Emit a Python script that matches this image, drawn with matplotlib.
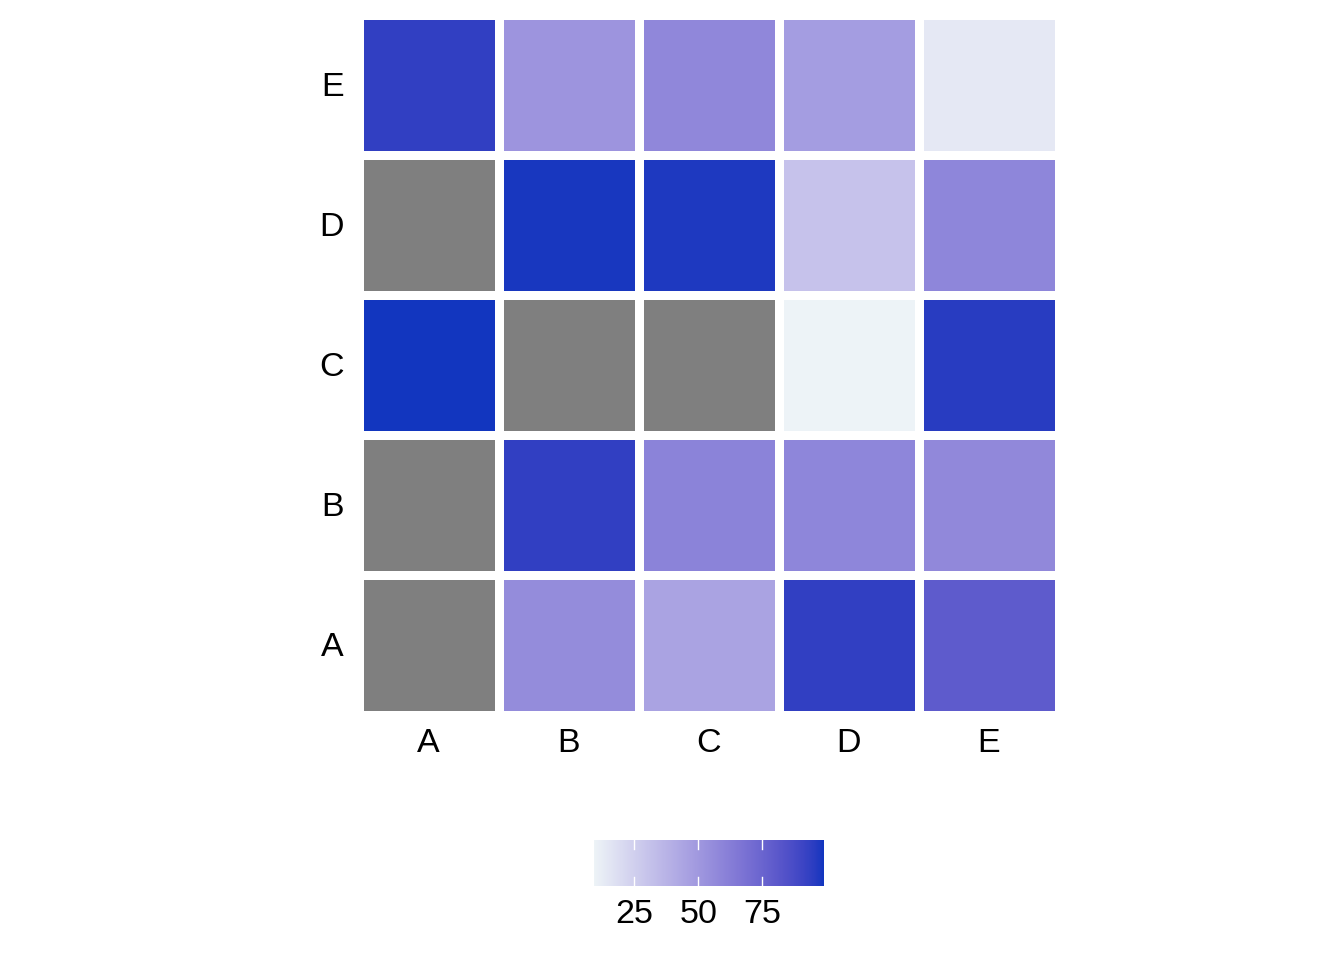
import numpy as np
import matplotlib
matplotlib.use("Agg")
import matplotlib.pyplot as plt
from matplotlib.colors import ListedColormap

plt.rcParams['font.family'] = ['Liberation Sans', 'DejaVu Sans']

# heatmap data, rows = y categories (bottom to top), columns = x categories
x_labels = ['A', 'B', 'C', 'D', 'E']
y_labels = ['A', 'B', 'C', 'D', 'E']
row_A = [np.nan, 56.2, 45.1, 94.0, 80.1]
row_B = [np.nan, 94.0, 60.3, 59.0, 58.0]
row_C = [99.1, np.nan, np.nan, 9.3, 95.8]
row_D = [np.nan, 98.2, 97.5, 30.8, 59.0]
row_E = [94.0, 51.8, 58.4, 48.1, 14.1]
bar_ticks = [25, 50, 75]

low_col = '#EDF3F7'
high_col = '#1236BF'
na_col = '#7F7F7F'


# ggplot style gradient: interpolate in CIE Lab
def srgb_to_lab(rgb):
    rgb = np.asarray(rgb, dtype=float)
    lin = np.where(rgb <= 0.04045, rgb / 12.92, ((rgb + 0.055) / 1.055) ** 2.4)
    m = np.array([[0.4124, 0.3576, 0.1805],
                  [0.2126, 0.7152, 0.0722],
                  [0.0193, 0.1192, 0.9505]])
    xyz = m @ lin / np.array([0.95047, 1.0, 1.08883])
    f = np.where(xyz > 0.008856, np.cbrt(xyz), 7.787 * xyz + 16 / 116)
    return np.array([116 * f[1] - 16, 500 * (f[0] - f[1]), 200 * (f[1] - f[2])])


def lab_to_srgb(lab):
    L, a, b = lab
    fy = (L + 16) / 116
    fx = fy + a / 500
    fz = fy - b / 200
    f = np.array([fx, fy, fz])
    xyz = np.where(f ** 3 > 0.008856, f ** 3, (f - 16 / 116) / 7.787)
    xyz = xyz * np.array([0.95047, 1.0, 1.08883])
    minv = np.array([[3.2406, -1.5372, -0.4986],
                     [-0.9689, 1.8758, 0.0415],
                     [0.0557, -0.2040, 1.0570]])
    lin = minv @ xyz
    lin = np.clip(lin, 0, 1)
    rgb = np.where(lin <= 0.0031308, 12.92 * lin, 1.055 * lin ** (1 / 2.4) - 0.055)
    return np.clip(rgb, 0, 1)


lab_lo = srgb_to_lab(matplotlib.colors.to_rgb(low_col))
lab_hi = srgb_to_lab(matplotlib.colors.to_rgb(high_col))
cols = [lab_to_srgb(lab_lo + t * (lab_hi - lab_lo)) for t in np.linspace(0, 1, 256)]
cmap = ListedColormap(cols)
cmap.set_bad(na_col)

z = np.ma.masked_invalid(np.array([row_A, row_B, row_C, row_D, row_E]))
vmin, vmax = np.nanmin(z.filled(np.nan)), np.nanmax(z.filled(np.nan))

fig = plt.figure(figsize=(13.44, 9.6), dpi=100)
ax = fig.add_axes([358.5 / 1344, (960 - 714.5) / 960, 700 / 1344, 700 / 960])

xe = np.arange(len(x_labels) + 1) + 0.5
ye = np.arange(len(y_labels) + 1) + 0.5
ax.pcolormesh(xe, ye, z, cmap=cmap, vmin=vmin, vmax=vmax,
              edgecolors='white', linewidth=6.3)
ax.set_xlim(0.5, len(x_labels) + 0.5)
ax.set_ylim(0.5, len(y_labels) + 0.5)
ax.set_xticks(np.arange(1, len(x_labels) + 1))
ax.set_xticklabels(x_labels)
ax.set_yticks(np.arange(1, len(y_labels) + 1))
ax.set_yticklabels(y_labels)
ax.tick_params(length=0, labelsize=24.5)
ax.tick_params(axis='x', pad=9.5)
ax.tick_params(axis='y', pad=10.5)
for s in ax.spines.values():
    s.set_visible(False)

# legend colour bar
cax = fig.add_axes([594 / 1344, (960 - 886) / 960, 230 / 1344, 46 / 960])
grad = np.linspace(vmin, vmax, 300)[None, :]
cax.imshow(grad, extent=[vmin, vmax, 0, 1], aspect='auto', cmap=cmap,
           vmin=vmin, vmax=vmax, origin='lower')
for t in bar_ticks:
    cax.plot([t, t], [0, 0.2], color='white', lw=1)
    cax.plot([t, t], [0.8, 1], color='white', lw=1)
cax.set_xlim(vmin, vmax)
cax.set_ylim(0, 1)
cax.set_xticks(bar_ticks)
cax.set_xticklabels([str(t) for t in bar_ticks])
cax.set_yticks([])
cax.tick_params(length=0, labelsize=24.5, pad=9.5)
for s in cax.spines.values():
    s.set_visible(False)

fig.savefig('out.png', dpi=100, facecolor='white')
